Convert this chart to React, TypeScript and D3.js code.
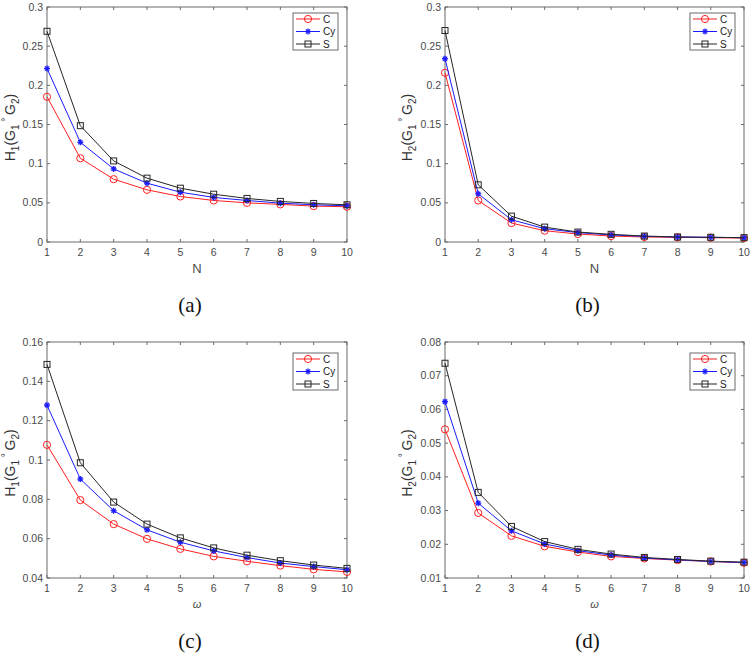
import React from "react";
import * as d3 from "d3";

const xValues = [1, 2, 3, 4, 5, 6, 7, 8, 9, 10];

// Panel (a): H1 vs N
const aC = [0.1854, 0.1069, 0.0802, 0.0666, 0.0581, 0.053, 0.050, 0.048, 0.0458, 0.045];
const aCy = [0.2215, 0.1273, 0.0933, 0.0751, 0.0636, 0.0569, 0.053, 0.0496, 0.0475, 0.0462];
const aS = [0.269, 0.1485, 0.1035, 0.0815, 0.0687, 0.061, 0.0556, 0.0518, 0.0492, 0.0475];

// Panel (b): H2 vs N
const bC = [0.216, 0.053, 0.0242, 0.0144, 0.0102, 0.0076, 0.0064, 0.006, 0.0055, 0.005];
const bCy = [0.234, 0.0615, 0.0284, 0.017, 0.012, 0.009, 0.0072, 0.0064, 0.006, 0.0055];
const bS = [0.27, 0.073, 0.033, 0.019, 0.0127, 0.0098, 0.0076, 0.0064, 0.006, 0.0055];

// Panel (c): H1 vs omega
const cC = [0.1077, 0.0796, 0.0674, 0.0599, 0.0548, 0.051, 0.0485, 0.0463, 0.0444, 0.0431];
const cCy = [0.1279, 0.0903, 0.0742, 0.0645, 0.0582, 0.0538, 0.0504, 0.0476, 0.0458, 0.0442];
const cS = [0.1486, 0.0986, 0.0786, 0.0674, 0.0604, 0.0553, 0.0516, 0.0488, 0.0466, 0.0449];

// Panel (d): H2 vs omega
const dC = [0.0541, 0.0293, 0.0225, 0.0194, 0.0177, 0.0164, 0.0158, 0.0153, 0.0149, 0.0145];
const dCy = [0.0623, 0.0322, 0.024, 0.0201, 0.0181, 0.0168, 0.0159, 0.0154, 0.0149, 0.0146];
const dS = [0.0737, 0.0354, 0.0253, 0.0208, 0.0185, 0.0171, 0.0161, 0.0155, 0.015, 0.0147];

const seriesNames = ["C", "Cy", "S"];
const yTicksA = [0, 0.05, 0.1, 0.15, 0.2, 0.25, 0.3];
const yTicksC = [0.04, 0.06, 0.08, 0.1, 0.12, 0.14, 0.16];
const yTicksD = [0.01, 0.02, 0.03, 0.04, 0.05, 0.06, 0.07, 0.08];

const COLORS = ["#ff2020", "#1a1aff", "#262626"];
const AXIS = "#6a6a6a";
const TEXT = "#4a4a4a";
const FONT = "Arial, 'Liberation Sans', Helvetica, sans-serif";

type PanelDef = {
  left: number; right: number; top: number; bottom: number;
  yDomain: [number, number]; yTicks: number[];
  series: number[][];
  hIndex: string; xLabel: string; italicX: boolean;
  caption: string; legendTop: number; yLabelX: number;
};

const panels: PanelDef[] = [
  { left: 47, right: 347, top: 7, bottom: 242, yDomain: [0, 0.3], yTicks: yTicksA, series: [aC, aCy, aS], hIndex: "1", xLabel: "N", italicX: false, caption: "(a)", legendTop: 13, yLabelX: 15 },
  { left: 445, right: 744, top: 7, bottom: 242, yDomain: [0, 0.3], yTicks: yTicksA, series: [bC, bCy, bS], hIndex: "2", xLabel: "N", italicX: false, caption: "(b)", legendTop: 13, yLabelX: 412 },
  { left: 47, right: 347, top: 342, bottom: 578, yDomain: [0.04, 0.16], yTicks: yTicksC, series: [cC, cCy, cS], hIndex: "1", xLabel: "ω", italicX: true, caption: "(c)", legendTop: 353, yLabelX: 15 },
  { left: 445, right: 744, top: 342, bottom: 578, yDomain: [0.01, 0.08], yTicks: yTicksD, series: [dC, dCy, dS], hIndex: "2", xLabel: "ω", italicX: true, caption: "(d)", legendTop: 353, yLabelX: 412 },
];

function Marker({ kind, x, y, color }: { kind: number; x: number; y: number; color: string }) {
  if (kind === 0) return <circle cx={x} cy={y} r={3.6} fill="none" stroke={color} strokeWidth={1} />;
  if (kind === 1) {
    const s = 3;
    return (
      <g stroke={color} strokeWidth={1.3}>
        <line x1={x - s} y1={y} x2={x + s} y2={y} />
        <line x1={x} y1={y - s} x2={x} y2={y + s} />
        <line x1={x - s * 0.7} y1={y - s * 0.7} x2={x + s * 0.7} y2={y + s * 0.7} />
        <line x1={x - s * 0.7} y1={y + s * 0.7} x2={x + s * 0.7} y2={y - s * 0.7} />
      </g>
    );
  }
  return <rect x={x - 3} y={y - 3} width={6} height={6} fill="none" stroke={color} strokeWidth={1} />;
}

function fmt(v: number) {
  return String(+v.toFixed(4));
}

function Panel({ p }: { p: PanelDef }) {
  const x = d3.scaleLinear().domain([1, 10]).range([p.left, p.right]);
  const y = d3.scaleLinear().domain(p.yDomain).range([p.bottom, p.top]);
  const line = d3.line<number>().x((_, i) => x(xValues[i])).y((v) => y(v));
  const tl = 3;
  const cy = (p.top + p.bottom) / 2;
  const cx = (p.left + p.right) / 2;
  const lgRight = p.right - 9;
  const lgW = 45;
  const lgL = lgRight - lgW;
  const lgH = 37;
  return (
    <g>
      <rect x={p.left} y={p.top} width={p.right - p.left} height={p.bottom - p.top} fill="#fff" stroke={AXIS} strokeWidth={1} />
      {xValues.map((v) => (
        <g key={"xt" + v}>
          <line x1={x(v)} x2={x(v)} y1={p.bottom} y2={p.bottom - tl} stroke={AXIS} />
          <line x1={x(v)} x2={x(v)} y1={p.top} y2={p.top + tl} stroke={AXIS} />
          <text x={x(v)} y={p.bottom + 14} textAnchor="middle" fontSize={10.5} fill={TEXT} fontFamily={FONT}>{v}</text>
        </g>
      ))}
      {p.yTicks.map((v) => (
        <g key={"yt" + v}>
          <line x1={p.left} x2={p.left + tl} y1={y(v)} y2={y(v)} stroke={AXIS} />
          <line x1={p.right} x2={p.right - tl} y1={y(v)} y2={y(v)} stroke={AXIS} />
          <text x={p.left - 4} y={y(v) + 3.5} textAnchor="end" fontSize={10.5} fill={TEXT} fontFamily={FONT}>{fmt(v)}</text>
        </g>
      ))}
      {p.series.map((s, k) => (
        <g key={"s" + k}>
          <path d={line(s) || ""} fill="none" stroke={COLORS[k]} strokeWidth={1} />
          {s.map((v, i) => (
            <Marker key={i} kind={k} x={x(xValues[i])} y={y(v)} color={COLORS[k]} />
          ))}
        </g>
      ))}
      <rect x={lgL} y={p.legendTop} width={lgW} height={lgH} fill="#fff" stroke={AXIS} strokeWidth={1} />
      {seriesNames.map((n, k) => {
        const ly = p.legendTop + 6 + k * 12.5;
        return (
          <g key={"lg" + n}>
            <line x1={lgL + 3} x2={lgL + 27} y1={ly} y2={ly} stroke={COLORS[k]} strokeWidth={1} />
            <Marker kind={k} x={lgL + 15} y={ly} color={COLORS[k]} />
            <text x={lgL + 30} y={ly + 3.5} fontSize={10} fill="#222" fontFamily={FONT}>{n}</text>
          </g>
        );
      })}
      <text transform={`translate(${p.yLabelX},${cy + 3}) rotate(-90)`} textAnchor="middle" fontSize={14} fill="#333" fontFamily={FONT}>
        H<tspan fontSize={10} dy={4}>{p.hIndex}</tspan>
        <tspan dy={-4}>(G</tspan>
        <tspan fontSize={10} dy={4}>1</tspan>
        <tspan fontSize={10} dy={-10}> ° </tspan>
        <tspan dy={6}>G</tspan>
        <tspan fontSize={10} dy={4}>2</tspan>
        <tspan dy={-4}>)</tspan>
      </text>
      <text x={cx} y={p.bottom + (p.italicX ? 30 : 31)} textAnchor="middle" fontSize={p.italicX ? 11 : 13} fontStyle={p.italicX ? "italic" : "normal"} fill={TEXT} fontFamily={FONT}>{p.xLabel}</text>
      <text x={cx - 7} y={p.bottom + 70} textAnchor="middle" fontSize={21} fill="#111" fontFamily="'Liberation Serif', 'Times New Roman', serif">{p.caption}</text>
    </g>
  );
}

export default function App() {
  return (
    <svg width={754} height={655} style={{ position: "absolute", left: 0, top: 0, background: "#fff" }}>
      <rect width={754} height={655} fill="#fff" />
      {panels.map((p, i) => <Panel key={i} p={p} />)}
    </svg>
  );
}
